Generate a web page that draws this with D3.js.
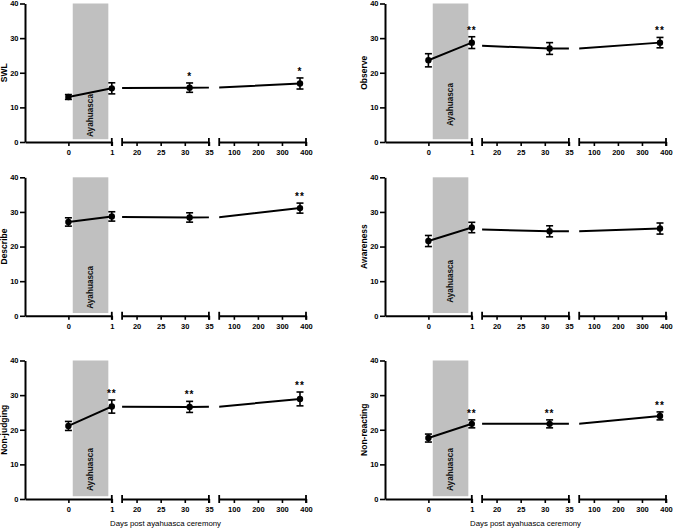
<!DOCTYPE html>
<html><head><meta charset="utf-8">
<script src="https://cdn.jsdelivr.net/npm/d3@7"></script>
<style>
body{margin:0;background:#fff}
svg{display:block}
text{font-family:"Liberation Sans",Arial,Helvetica,sans-serif}
</style>
</head><body>
<svg id="chart" width="676" height="528"></svg>
<script>
// ---------------- DATA ----------------
const days = [0, 1, 31, 375];
const measures = ["SWL", "Observe", "Describe", "Awareness", "Non-judging", "Non-reacting"];

const swlMean = [13.0, 15.5, 15.7, 16.9];
const swlSem  = [0.7, 1.6, 1.35, 1.6];
const swlSig  = ["", "", "*", "*"];

const observeMean = [23.6, 28.7, 27.0, 28.7];
const observeSem  = [1.9, 1.7, 1.7, 1.5];
const observeSig  = ["", "**", "", "**"];

const describeMean = [27.1, 28.7, 28.4, 31.1];
const describeSem  = [1.2, 1.35, 1.35, 1.45];
const describeSig  = ["", "", "", "**"];

const awarenessMean = [21.6, 25.5, 24.4, 25.2];
const awarenessSem  = [1.6, 1.5, 1.6, 1.6];
const awarenessSig  = ["", "", "", ""];

const nonJudgingMean = [21.1, 26.7, 26.6, 28.9];
const nonJudgingSem  = [1.3, 1.9, 1.6, 2.0];
const nonJudgingSig  = ["", "**", "**", "**"];

const nonReactingMean = [17.6, 21.7, 21.7, 24.0];
const nonReactingSem  = [1.15, 1.15, 1.15, 1.15];
const nonReactingSig  = ["", "**", "**", "**"];

const segmentDomains = [[-1, 1], [17, 35], [39, 400]];
const segmentTicks = [[0, 1], [20, 25, 30, 35], [100, 200, 300, 400]];
const yTicks = [0, 10, 20, 30, 40];
const yDomain = [0, 40];
const ayahuascaWindow = [0.1, 0.92];
const shadeLabel = "Ayahuasca";
const xTitle = "Days post ayahuasca ceremony";

// --------------- LAYOUT ---------------
const means = [swlMean, observeMean, describeMean, awarenessMean, nonJudgingMean, nonReactingMean];
const sems  = [swlSem, observeSem, describeSem, awarenessSem, nonJudgingSem, nonReactingSem];
const sigs  = [swlSig, observeSig, describeSig, awarenessSig, nonJudgingSig, nonReactingSig];

const colX = [25, 385];
const rowTop = [3.5, 177.3, 360.5];
const plotH = 138.5;
const segW = 86.8, segGap = 10.3;
const labelLift = [5, 16, 7, 13, 8, 8];
const FONT = '"Liberation Sans",Arial,sans-serif';

const svg = d3.select("#chart");

measures.forEach((name, i) => {
  const col = i % 2, row = Math.floor(i / 2);
  const x0 = colX[col], top = rowTop[row], bottom = top + plotH;
  const g = svg.append("g");

  const y = d3.scaleLinear().domain(yDomain).range([bottom, top]);
  const xs = segmentDomains.map((d, s) => {
    const a = x0 + s * (segW + segGap);
    return d3.scaleLinear().domain(d).range([a, a + segW]);
  });

  // shaded ayahuasca window
  const rx0 = xs[0](ayahuascaWindow[0]), rx1 = xs[0](ayahuascaWindow[1]);
  g.append("rect")
    .attr("x", rx0).attr("y", y(40))
    .attr("width", rx1 - rx0).attr("height", y(0.8) - y(40))
    .attr("fill", "#c0c0c0");
  const lx = (rx0 + rx1) / 2, ly = y(0) - labelLift[i];
  g.append("text")
    .attr("transform", `translate(${lx},${ly}) rotate(-90)`)
    .attr("dy", "0.35em")
    .attr("font-size", 8.2).attr("font-weight", "bold")
    .attr("fill", "#111")
    .text(shadeLabel);

  // y axis
  const ya = g.append("g").attr("transform", `translate(${x0},0)`)
    .call(d3.axisLeft(y).tickValues(yTicks).tickFormat(d3.format("d"))
      .tickSize(5).tickSizeOuter(0).tickPadding(1.5));
  ya.select(".domain").attr("stroke", "#000").attr("stroke-width", 2);
  ya.selectAll(".tick line").attr("stroke", "#000").attr("stroke-width", 1.6);
  ya.selectAll(".tick text").attr("font-size", 7.5).attr("font-weight", "bold")
    .attr("font-family", FONT).attr("fill", "#000");

  // y title
  g.append("text")
    .attr("transform", `translate(${x0 - 20.5},${(top + bottom) / 2}) rotate(-90)`)
    .attr("dy", "0.35em").attr("text-anchor", "middle")
    .attr("font-size", 8.5).attr("font-weight", "bold").attr("fill", "#000")
    .text(name);

  // x axis segments
  xs.forEach((xsc, s) => {
    const xa = g.append("g").attr("transform", `translate(0,${y(0)})`)
      .call(d3.axisBottom(xsc).tickValues(segmentTicks[s]).tickFormat(d3.format("d"))
        .tickSize(4).tickSizeOuter(0).tickPadding(3.5));
    xa.select(".domain").attr("stroke", "#000").attr("stroke-width", 2);
    xa.selectAll(".tick line").attr("stroke", "#000").attr("stroke-width", 1.6);
    xa.selectAll(".tick text").attr("font-size", 7.5).attr("font-weight", "bold")
      .attr("font-family", FONT).attr("fill", "#000");
    const ends = s === 0 ? [xsc.range()[1]] : xsc.range();
    ends.forEach(ex => {
      g.append("line")
        .attr("x1", ex).attr("x2", ex)
        .attr("y1", y(0) - 4).attr("y2", y(0) + 4)
        .attr("stroke", "#000").attr("stroke-width", 1.8);
    });

    // clipped connecting line
    const cid = `clip-${i}-${s}`;
    g.append("clipPath").attr("id", cid).append("rect")
      .attr("x", xsc.range()[0]).attr("y", top - 10)
      .attr("width", segW).attr("height", plotH + 20);
    const line = d3.line().x(d => xsc(d[0])).y(d => y(d[1]));
    g.append("path")
      .attr("clip-path", `url(#${cid})`)
      .attr("d", line(days.map((d, k) => [d, means[i][k]])))
      .attr("fill", "none").attr("stroke", "#000").attr("stroke-width", 2);
  });

  // points, error bars, significance
  days.forEach((d, k) => {
    const s = segmentDomains.findIndex(dom => d >= dom[0] && d <= dom[1]);
    const px = xs[s](d);
    const m = means[i][k], e = sems[i][k];
    const yTop = y(m + e), yBot = y(m - e);
    g.append("line").attr("x1", px).attr("x2", px).attr("y1", yTop).attr("y2", yBot)
      .attr("stroke", "#000").attr("stroke-width", 1.6);
    [yTop, yBot].forEach(yy => g.append("line")
      .attr("x1", px - 3.5).attr("x2", px + 3.5).attr("y1", yy).attr("y2", yy)
      .attr("stroke", "#000").attr("stroke-width", 1.6));
    g.append("circle").attr("cx", px).attr("cy", y(m)).attr("r", 3.2).attr("fill", "#000");
    if (sigs[i][k]) {
      g.append("text").attr("x", px).attr("y", yTop - 3)
        .attr("text-anchor", "middle").attr("font-size", 10).attr("font-weight", "bold")
        .attr("letter-spacing", 1).attr("fill", "#000")
        .text(sigs[i][k]);
    }
  });

  // x title on bottom row
  if (row === 2) {
    g.append("text")
      .attr("x", (xs[0].range()[0] + xs[2].range()[1]) / 2)
      .attr("y", y(0) + 26.5)
      .attr("text-anchor", "middle").attr("font-size", 7.8).attr("fill", "#000")
      .text(xTitle);
  }
});
</script>
</body></html>
